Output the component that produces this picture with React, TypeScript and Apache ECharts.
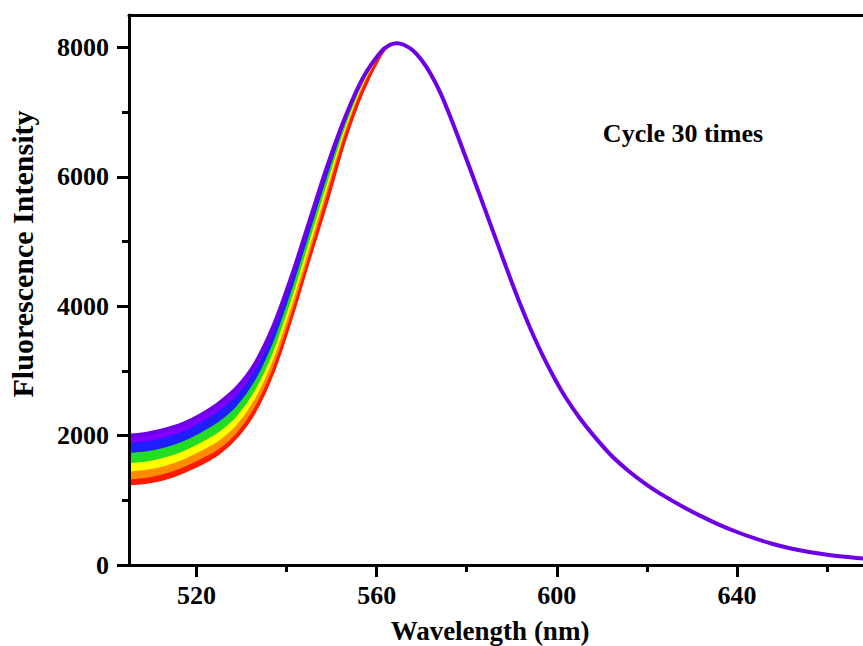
import React, { useEffect, useRef } from "react";
import * as echarts from "echarts";

// Wavelength grid (nm) of the rising flank, where the 30 cycle curves fan out
const risingX = [505, 509, 513, 517, 521, 525, 529, 533, 537, 541, 545, 549, 553, 557, 561];
// Band boundaries on the rising flank (top of violet ... bottom of red)
const violetTop = [2000, 2030, 2090, 2180, 2320, 2500, 2740, 3110, 3680, 4440, 5300, 6160, 6920, 7535, 7937];
const violetBlue = [1872, 1901, 1961, 2052, 2191, 2366, 2607, 2982, 3558, 4328, 5198, 6073, 6866, 7505, 7929];
const blueGreen = [1717, 1745, 1805, 1899, 2035, 2204, 2447, 2829, 3410, 4192, 5075, 5969, 6800, 7469, 7919];
const greenYellow = [1562, 1589, 1649, 1745, 1879, 2042, 2288, 2675, 3262, 4057, 4952, 5864, 6734, 7433, 7910];
const yellowOrange = [1434, 1460, 1520, 1617, 1750, 1907, 2155, 2547, 3140, 3945, 4850, 5777, 6680, 7404, 7902];
const orangeRed = [1313, 1338, 1398, 1497, 1628, 1781, 2030, 2427, 3025, 3839, 4754, 5696, 6629, 7376, 7894];
const redBottom = [1245, 1270, 1330, 1430, 1555, 1720, 1975, 2365, 2960, 3780, 4700, 5600, 6560, 7320, 7880];

// Shared peak + falling flank (all curves overlap)
const fallingX = [563, 564.5, 566, 568, 570, 572, 574, 576, 578, 580, 582, 584, 586, 588, 590, 592, 594, 596, 598, 600, 602, 605, 608, 612, 616, 620, 624, 628, 632, 636, 640, 644, 648, 652, 656, 660, 664, 668];
const fallingY = [8040, 8065, 8040, 7955, 7800, 7590, 7320, 6990, 6630, 6260, 5885, 5505, 5125, 4745, 4370, 4010, 3675, 3365, 3080, 2820, 2585, 2280, 2015, 1700, 1450, 1240, 1060, 900, 755, 625, 510, 410, 325, 255, 200, 158, 126, 100];

const xMajorTicks = [520, 560, 600, 640];
const xMinorTicks = [540, 580, 620, 660];
const yMajorTicks = [0, 2000, 4000, 6000, 8000];
const yMinorTicks = [1000, 3000, 5000, 7000];

const FONT = "'Liberation Serif', 'Times New Roman', serif";

function curve(rising: number[]) {
  const xs = risingX.concat(fallingX);
  const ys = rising.concat(fallingY);
  return xs.map((x, i) => [x, ys[i]]);
}

export default function App() {
  const ref = useRef<HTMLDivElement>(null);
  useEffect(() => {
    if (!ref.current) return;
    const chart = echarts.init(ref.current, undefined, { renderer: "svg" });
    const bands = [
      { d: violetTop, c: "#7F00FF" },
      { d: violetBlue, c: "#1E1EFF" },
      { d: blueGreen, c: "#22DD22" },
      { d: greenYellow, c: "#FFFF00" },
      { d: yellowOrange, c: "#FF8C00" },
      { d: orangeRed, c: "#FF1A00" },
    ];
    const series: any[] = bands.map((b) => ({
      type: "line",
      data: curve(b.d),
      showSymbol: false,
      smooth: 0.3,
      lineStyle: { color: b.c, width: 1.5 },
      areaStyle: { color: b.c, opacity: 1 },
      silent: true,
    }));
    series.push({
      type: "line",
      data: curve(redBottom),
      showSymbol: false,
      smooth: 0.3,
      lineStyle: { color: "#FF1A00", width: 2 },
      areaStyle: { color: "#FFFFFF", opacity: 1 },
      silent: true,
    });
    series.push({
      type: "line",
      data: curve(violetTop),
      showSymbol: false,
      smooth: 0.3,
      lineStyle: { color: "#6E00E6", width: 4 },
      silent: true,
    });

    const xBase = { type: "value", min: 505, max: 668, gridIndex: 0, z: 10 };
    const yBase = { type: "value", min: 0, max: 8500, gridIndex: 0, z: 10 };
    const plain = (v: number) => String(v);
    chart.setOption({
      animation: false,
      backgroundColor: "#ffffff",
      grid: { left: 129, right: 0, top: 15, bottom: 81, containLabel: false },
      xAxis: [
        {
          ...xBase,
          position: "bottom",
          axisLine: { show: true, lineStyle: { color: "#000", width: 3 } },
          axisTick: { show: true, inside: false, length: 12, lineStyle: { color: "#000", width: 3 }, customValues: xMajorTicks },
          axisLabel: { show: true, margin: 17, color: "#000", fontFamily: FONT, fontWeight: "bold", fontSize: 26, formatter: plain, customValues: xMajorTicks },
          splitLine: { show: false },
        },
        {
          ...xBase,
          position: "bottom",
          axisLine: { show: false },
          axisTick: { show: true, inside: false, length: 7, lineStyle: { color: "#000", width: 3 }, customValues: xMinorTicks },
          axisLabel: { show: false },
          splitLine: { show: false },
        },
        {
          ...xBase,
          position: "top",
          axisLine: { show: true, lineStyle: { color: "#000", width: 3 } },
          axisTick: { show: false },
          axisLabel: { show: false },
          splitLine: { show: false },
        },
      ],
      yAxis: [
        {
          ...yBase,
          position: "left",
          axisLine: { show: true, lineStyle: { color: "#000", width: 3 } },
          axisTick: { show: true, inside: false, length: 12, lineStyle: { color: "#000", width: 3 }, customValues: yMajorTicks },
          axisLabel: { show: true, margin: 20, color: "#000", fontFamily: FONT, fontWeight: "bold", fontSize: 26, formatter: plain, customValues: yMajorTicks },
          splitLine: { show: false },
        },
        {
          ...yBase,
          position: "left",
          axisLine: { show: false },
          axisTick: { show: true, inside: false, length: 7, lineStyle: { color: "#000", width: 3 }, customValues: yMinorTicks },
          axisLabel: { show: false },
          splitLine: { show: false },
        },
      ],
      series,
      graphic: [
        {
          type: "text",
          x: 683,
          y: 133,
          style: { text: "Cycle 30 times", font: `bold 26px ${FONT}`, fill: "#000", textAlign: "center", textVerticalAlign: "middle" },
        },
        {
          type: "text",
          x: 22,
          y: 254,
          rotation: Math.PI / 2,
          style: { text: "Fluorescence Intensity", font: `bold 30px ${FONT}`, fill: "#000", textAlign: "center", textVerticalAlign: "middle" },
        },
        {
          type: "text",
          x: 490,
          y: 631,
          style: { text: "Wavelength (nm)", font: `bold 27px ${FONT}`, fill: "#000", textAlign: "center", textVerticalAlign: "middle" },
        },
      ],
    });
    return () => chart.dispose();
  }, []);
  return <div ref={ref} style={{ width: 863, height: 646, position: "fixed", left: 0, top: 0 }} />;
}
